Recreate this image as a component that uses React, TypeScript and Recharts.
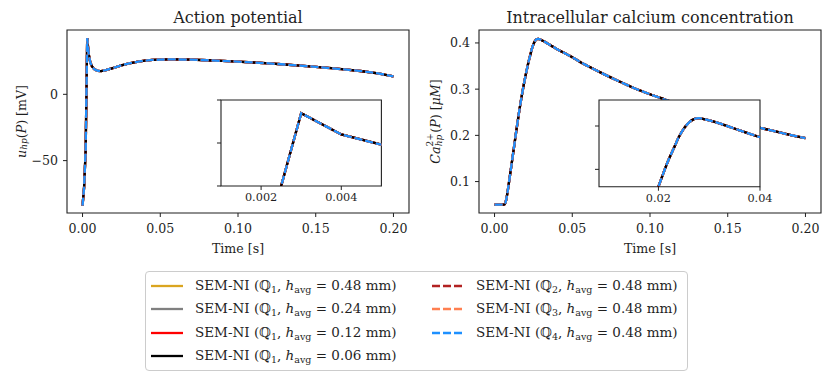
import { LineChart, Line, XAxis, YAxis, ReferenceArea } from 'recharts';

const FONT = '"DejaVu Serif", serif';
const INK = '#1f1f1f';

// membrane potential at P, time [s] -> mV
const apTime = [0, 0.001, 0.002, 0.003, 0.004, 0.005, 0.006, 0.007, 0.008, 0.01, 0.012, 0.015, 0.02, 0.025, 0.03, 0.035, 0.04, 0.045, 0.05, 0.055, 0.06, 0.07, 0.08, 0.09, 0.1, 0.11, 0.12, 0.13, 0.14, 0.15, 0.16, 0.17, 0.18, 0.19, 0.2];
const apValue = [-84, -70, -42.3, 42.3, 30, 24, 21.3, 19.6, 18.6, 17.7, 17.5, 18.3, 20, 21.8, 23.3, 24.5, 25.4, 25.9, 26.2, 26.3, 26.3, 26.1, 25.7, 25.2, 24.6, 24, 23.3, 22.5, 21.6, 20.7, 19.7, 18.6, 17.4, 15.8, 13.6];

// intracellular calcium at P, time [s] -> uM
const caTime = [0, 0.002, 0.004, 0.006, 0.007, 0.008, 0.01, 0.012, 0.014, 0.016, 0.018, 0.02, 0.021, 0.022, 0.023, 0.024, 0.025, 0.026, 0.027, 0.028, 0.029, 0.03, 0.032, 0.034, 0.036, 0.038, 0.04, 0.045, 0.05, 0.055, 0.06, 0.07, 0.08, 0.09, 0.1, 0.11, 0.12, 0.13, 0.14, 0.15, 0.16, 0.17, 0.18, 0.19, 0.2];
const caValue = [0.05, 0.05, 0.05, 0.05, 0.054, 0.07, 0.115, 0.162, 0.21, 0.255, 0.295, 0.33, 0.346, 0.361, 0.374, 0.387, 0.397, 0.404, 0.408, 0.409, 0.408, 0.4065, 0.403, 0.399, 0.395, 0.391, 0.387, 0.378, 0.369, 0.359, 0.35, 0.333, 0.317, 0.302, 0.289, 0.277, 0.265, 0.254, 0.244, 0.235, 0.226, 0.217, 0.209, 0.201, 0.194];

// the seven runs (they sit on top of each other)
const seriesQ = [1, 1, 1, 1, 2, 3, 4];
const seriesH = ['0.48', '0.24', '0.12', '0.06', '0.48', '0.48', '0.48'];
const seriesColor = ['#DAA520', '#808080', '#FF0000', '#000000', '#B22222', '#FF7F50', '#1E90FF'];
const seriesDashed = [false, false, false, false, true, true, true];

const xTicks = [0, 0.05, 0.1, 0.15, 0.2];
const apTicksY = [-50, 0];
const caTicksY = [0.1, 0.2, 0.3, 0.4];
const apInsetTicksX = [0.002, 0.004];
const apInsetTicksY = [0, 25, 50];
const caInsetTicksX = [0.02, 0.04];
const caInsetTicksY = [0.35, 0.4];

const apRows = apTime.map((t, i) => ({ t, v: apValue[i] }));
const caRows = caTime.map((t, i) => ({ t, v: caValue[i] }));

const tickStyle = { fontFamily: FONT, fontSize: 12.6, fill: INK };
const DASH = '8 3';

function lines(curve: 'linear' | 'monotone') {
  return seriesColor.map((c, i) => (
    <Line
      key={i}
      type={curve}
      dataKey="v"
      stroke={c}
      strokeWidth={2.3}
      strokeDasharray={seriesDashed[i] ? DASH : undefined}
      dot={false}
      activeDot={false}
      isAnimationActive={false}
    />
  ));
}

function XLabel({ viewBox }: any) {
  return (
    <text x={viewBox.x + viewBox.width / 2} y={viewBox.y + 35} textAnchor="middle" dominantBaseline="central"
      fontFamily={FONT} fontSize={12.6} fill={INK}>
      Time [s]
    </text>
  );
}

function ApYLabel({ viewBox }: any) {
  const cx = viewBox.x + 21;
  const cy = viewBox.y + viewBox.height / 2;
  return (
    <text transform={`translate(${cx},${cy}) rotate(-90)`} textAnchor="middle" dominantBaseline="central"
      fontFamily={FONT} fontSize={12.6} fill={INK}>
      <tspan fontStyle="italic">u</tspan>
      <tspan fontStyle="italic" fontSize={9} dy={3}>hp</tspan>
      <tspan dy={-3}>(</tspan>
      <tspan fontStyle="italic">P</tspan>
      <tspan>) [mV]</tspan>
    </text>
  );
}

function CaYLabel({ viewBox }: any) {
  const cx = viewBox.x + 23;
  const cy = viewBox.y + viewBox.height / 2;
  return (
    <text transform={`translate(${cx},${cy}) rotate(-90)`} textAnchor="middle" dominantBaseline="central"
      fontFamily={FONT} fontSize={12.6} fill={INK}>
      <tspan fontStyle="italic">Ca</tspan>
      <tspan fontSize={9} dy={-5}>2+</tspan>
      <tspan fontStyle="italic" fontSize={9} dx={-13} dy={9}>hp</tspan>
      <tspan dx={2} dy={-4}>(</tspan>
      <tspan fontStyle="italic">P</tspan>
      <tspan>) [</tspan>
      <tspan fontStyle="italic">μM</tspan>
      <tspan>]</tspan>
    </text>
  );
}

type PanelProps = {
  left: number;
  rows: { t: number; v: number }[];
  yDomain: [number, number];
  yTicks: number[];
  yFmt: (v: number) => string;
  YLabel: any;
  curve: 'linear' | 'monotone';
};

function Panel({ left, rows, yDomain, yTicks, yFmt, YLabel, curve }: PanelProps) {
  const xDomain: [number, number] = [-0.01, 0.21];
  return (
    <div style={{ position: 'absolute', left, top: 0 }}>
      <LineChart width={420} height={260} data={rows} margin={{ top: 30, right: 11, bottom: 0, left: 0 }}>
        <XAxis type="number" dataKey="t" domain={xDomain} ticks={xTicks} allowDataOverflow
          tickFormatter={(v: number) => v.toFixed(2)} tick={tickStyle} tickSize={4} tickMargin={7.5}
          axisLine={false} tickLine={{ stroke: INK }} height={47} label={<XLabel />} />
        <YAxis type="number" domain={yDomain} ticks={yTicks} allowDataOverflow tickFormatter={yFmt}
          tick={tickStyle} tickSize={4} tickMargin={5} axisLine={false} tickLine={{ stroke: INK }} width={67}
          label={<YLabel />} />
        {lines(curve)}
        <ReferenceArea x1={xDomain[0]} x2={xDomain[1]} y1={yDomain[0]} y2={yDomain[1]}
          fill="none" fillOpacity={0} stroke={INK} strokeWidth={1.1} />
      </LineChart>
    </div>
  );
}

type InsetProps = {
  left: number;
  top: number;
  boxW: number;
  boxH: number;
  rows: { t: number; v: number }[];
  xDomain: [number, number];
  yDomain: [number, number];
  xTicks: number[];
  yTicks: number[];
  xFmt: (v: number) => string;
  curve: 'linear' | 'monotone';
};

// zoomed box, placed over the main panel; left/top are the plot box corner
function Inset({ left, top, boxW, boxH, rows, xDomain, yDomain, xTicks, yTicks, xFmt, curve }: InsetProps) {
  return (
    <>
      <div style={{ position: 'absolute', left, top, width: boxW, height: boxH, background: '#fff' }} />
      <div style={{ position: 'absolute', left: left - 20, top: top - 5 }}>
        <LineChart width={20 + boxW + 25} height={5 + boxH + 25} data={rows}
          margin={{ top: 5, right: 25, bottom: 0, left: 0 }}>
          <XAxis type="number" dataKey="t" domain={xDomain} ticks={xTicks} allowDataOverflow
            tickFormatter={xFmt} tick={{ ...tickStyle, fontSize: 11.3 }} tickSize={4} tickMargin={2.8}
            axisLine={false} tickLine={{ stroke: INK }} height={25} />
          <YAxis type="number" domain={yDomain} ticks={yTicks} allowDataOverflow tickFormatter={() => ''}
            tick={tickStyle} tickSize={4} axisLine={false} tickLine={{ stroke: INK }} width={20} />
          {lines(curve)}
          <ReferenceArea x1={xDomain[0]} x2={xDomain[1]} y1={yDomain[0]} y2={yDomain[1]}
            fill="none" fillOpacity={0} stroke={INK} strokeWidth={1.1} />
        </LineChart>
      </div>
    </>
  );
}

function LegendBox() {
  return (
    <div style={{
      position: 'absolute', left: 145, top: 271, width: 541, height: 98,
      border: '1px solid #cccccc', borderRadius: 4, background: '#fff',
    }}>
      {seriesColor.map((c, i) => {
        const col = seriesQ[i] === 1 ? 0 : 1;
        const row = col === 0 ? i : i - 4;
        return (
          <div key={i} style={{
            position: 'absolute', left: col === 0 ? 5 : 286, top: 13.5 + row * 23.5 - 10, height: 20,
            display: 'flex', alignItems: 'center', whiteSpace: 'nowrap',
            fontFamily: FONT, fontSize: 13.5, color: INK, lineHeight: '20px',
          }}>
            <svg width={32} height={4} style={{ display: 'block' }}>
              <line x1={0} y1={2} x2={32} y2={2} stroke={c} strokeWidth={2.3}
                strokeDasharray={seriesDashed[i] ? DASH : undefined} />
            </svg>
            <span style={{ marginLeft: 12 }}>
              SEM-NI (ℚ<span style={{ fontSize: 9.5, position: 'relative', top: 3 }}>{seriesQ[i]}</span>,{' '}
              <i>h</i><span style={{ fontSize: 9.5, position: 'relative', top: 3 }}>avg</span> = {seriesH[i]} mm)
            </span>
          </div>
        );
      })}
    </div>
  );
}

export default function App() {
  return (
    <div style={{ position: 'absolute', left: 0, top: 0, width: 831, height: 381, background: '#fff', overflow: 'hidden' }}>
      <Panel left={0} rows={apRows} yDomain={[-89.5, 48.5]} yTicks={apTicksY}
        yFmt={(v: number) => (v < 0 ? '\u2212' + Math.abs(v) : String(v))} YLabel={ApYLabel} curve="linear" />
      <Panel left={412} rows={caRows} yDomain={[0.032, 0.428]} yTicks={caTicksY}
        yFmt={(v: number) => v.toFixed(1)} YLabel={CaYLabel} curve="monotone" />
      <Inset left={221.3} top={100} boxW={160.4} boxH={86} rows={apRows} xDomain={[0.001, 0.005]}
        yDomain={[0, 50]} xTicks={apInsetTicksX} yTicks={apInsetTicksY} xFmt={(v: number) => v.toFixed(3)} curve="linear" />
      <Inset left={599} top={100} boxW={161} boxH={86.7} rows={caRows} xDomain={[0.0083, 0.04]}
        yDomain={[0.33, 0.43]} xTicks={caInsetTicksX} yTicks={caInsetTicksY} xFmt={(v: number) => v.toFixed(2)} curve="monotone" />
      <svg width={831} height={40} style={{ position: 'absolute', left: 0, top: 0, pointerEvents: 'none' }}>
        <text x={238} y={23} textAnchor="middle" fontFamily={FONT} fontSize={16} fill={INK}>Action potential</text>
        <text x={650} y={23} textAnchor="middle" fontFamily={FONT} fontSize={16} fill={INK}>Intracellular calcium concentration</text>
      </svg>
      <LegendBox />
    </div>
  );
}
